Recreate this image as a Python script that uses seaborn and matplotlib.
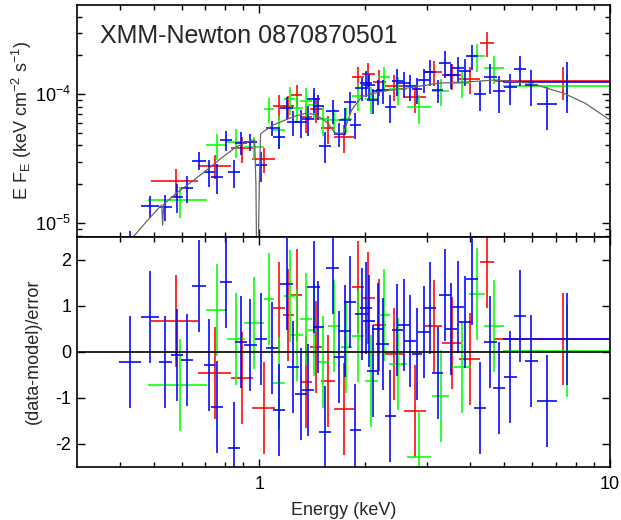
import math
import matplotlib
matplotlib.use("Agg")
import matplotlib.pyplot as plt
import matplotlib.ticker as mticker
import seaborn as sns

# ---------------- spectral data (unfolded E F_E and residuals) ----------------
# red data set
red_energy = [0.580, 0.749, 0.894, 1.031, 1.140, 1.210, 1.278, 1.361, 1.454, 1.573, 1.747,
              1.915, 2.046, 2.199, 2.427, 2.785, 3.149, 3.537, 3.997, 4.468, 7.36]
red_halfwidth = [0.088, 0.080, 0.066, 0.075, 0.045, 0.045, 0.045, 0.05, 0.055, 0.075, 0.11,
                 0.08, 0.085, 0.095, 0.145, 0.205, 0.18, 0.215, 0.275, 0.2, 2.68]
red_flux = [2.11e-5, 2.77e-5, 3.8e-5, 3.13e-5, 8.1e-5, 8.1e-5, 9.8e-5, 6.6e-5, 7.65e-5, 5.45e-5, 4.63e-5,
            1.35e-4, 1.44e-4, 1.25e-4, 1.15e-4, 9.5e-5, 1.48e-4, 1.4e-4, 1.32e-4, 2.49e-4, 1.26e-4]
red_flux_err = [5.2e-6, 5.9e-6, 8.5e-6, 6.8e-6, 1.75e-5, 1.6e-5, 1.9e-5, 1.6e-5, 1.65e-5, 1.37e-5, 1.16e-5,
                2.8e-5, 3.1e-5, 2.8e-5, 2.6e-5, 2.3e-5, 3.2e-5, 3.3e-5, 3.2e-5, 5.6e-5, 3.6e-5]
red_resid = [0.67, -0.47, -0.57, -1.22, 0.96, 0.8, 1.24, -0.65, 0.11, -0.63, -1.25,
             1.41, 1.17, 0.57, -0.06, -1.28, 0.55, 0.2, -0.15, 1.94, 0.28]

# green data set
green_energy = [0.595, 0.757, 0.860, 0.968, 1.066, 1.140, 1.221, 1.284, 1.361, 1.429, 1.522, 1.636,
                1.770, 1.915, 2.086, 2.267, 2.491, 2.859, 3.296, 3.777, 4.183, 4.678, 7.523]
green_halfwidth = [0.113, 0.053, 0.049, 0.063, 0.035, 0.045, 0.045, 0.05, 0.055, 0.05, 0.055, 0.065,
                   0.065, 0.08, 0.09, 0.085, 0.145, 0.23, 0.185, 0.25, 0.23, 0.3, 2.56]
green_flux = [1.50e-5, 4.0e-5, 4.26e-5, 3.87e-5, 7.65e-5, 5.28e-5, 9.15e-5, 7.8e-5, 8.9e-5, 8.26e-5, 6.42e-5, 6.31e-5,
              6.39e-5, 9.76e-5, 9.2e-5, 1.35e-4, 1.09e-4, 7.9e-5, 1.06e-4, 1.23e-4, 1.98e-4, 1.59e-4, 1.15e-4]
green_flux_err = [4.1e-6, 9e-6, 1.07e-5, 8e-6, 1.7e-5, 1.5e-5, 2.2e-5, 1.85e-5, 2.2e-5, 1.9e-5, 1.7e-5, 1.3e-5,
                  1.4e-5, 2.4e-5, 2.2e-5, 2.9e-5, 2.6e-5, 2.0e-5, 2.5e-5, 2.9e-5, 4.9e-5, 3.9e-5, 2.8e-5]
green_resid = [-0.72, 0.9, 0.28, 0.63, 1.14, -0.69, 1.22, 0.37, 0.72, 0.47, -0.22, 0.55,
               0.11, 0.35, -0.63, 0.8, -0.26, -2.28, -0.96, -0.34, 1.26, 0.55, 0.02]

# blue data set
blue_energy = [0.429, 0.489, 0.540, 0.584, 0.623, 0.675, 0.720, 0.757, 0.805, 0.849, 0.889, 0.943,
               1.013, 1.087, 1.140, 1.197, 1.250, 1.315, 1.379, 1.429, 1.473, 1.542, 1.619, 1.691,
               1.755, 1.817, 1.878, 1.959, 2.011, 2.059, 2.106, 2.184, 2.248, 2.363, 2.475, 2.591,
               2.696, 2.817, 2.949, 3.067, 3.227, 3.384, 3.521, 3.693, 3.867, 4.043, 4.267, 4.557,
               4.834, 5.196, 5.549, 5.965, 6.627, 7.553]
blue_halfwidth = [0.032, 0.029, 0.0225, 0.023, 0.024, 0.031, 0.026, 0.031, 0.032, 0.033, 0.035, 0.039,
                  0.042, 0.043, 0.046, 0.048, 0.05, 0.055, 0.055, 0.058, 0.055, 0.06, 0.065, 0.055,
                  0.07, 0.07, 0.07, 0.085, 0.08, 0.08, 0.075, 0.085, 0.09, 0.088, 0.09, 0.1,
                  0.11, 0.1, 0.11, 0.12, 0.12, 0.135, 0.14, 0.15, 0.16, 0.17, 0.17, 0.19,
                  0.2, 0.22, 0.23, 0.26, 0.435, 2.6]
blue_flux = [6.9e-6, 1.355e-5, 1.34e-5, 1.60e-5, 1.87e-5, 3.05e-5, 2.49e-5, 2.27e-5, 4.39e-5, 2.48e-5, 4.2e-5, 4.28e-5,
             2.8e-5, 5.5e-5, 4.63e-5, 7.87e-5, 6.06e-5, 6.04e-5, 6.4e-5, 9.15e-5, 8.1e-5, 3.98e-5, 7.46e-5, 4.94e-5,
             6.31e-5, 8.7e-5, 5.81e-5, 1.11e-4, 1.23e-4, 1.18e-4, 9.0e-5, 1.05e-4, 1.07e-4, 7.9e-5, 1.27e-4, 1.22e-4,
             1.15e-4, 1.09e-4, 1.29e-4, 1.5e-4, 1.07e-4, 1.74e-4, 1.41e-4, 1.59e-4, 1.52e-4, 1.98e-4, 1.0e-4, 1.37e-4,
             1.05e-4, 1.13e-4, 1.57e-4, 1.18e-4, 8.37e-5, 1.25e-4]
blue_flux_err = [1.8e-6, 2.7e-6, 3.0e-6, 4.0e-6, 4.3e-6, 4.9e-6, 6e-6, 6e-6, 7.5e-6, 6e-6, 8.5e-6, 6.5e-6,
                 7.3e-6, 7.5e-6, 9e-6, 1.6e-5, 1.36e-5, 1.5e-5, 1.7e-5, 2.0e-5, 1.75e-5, 1.07e-5, 1.54e-5, 1.03e-5,
                 1.47e-5, 1.7e-5, 1.3e-5, 2.3e-5, 2.75e-5, 2.6e-5, 2.0e-5, 2.3e-5, 2.3e-5, 1.9e-5, 3.0e-5, 2.8e-5,
                 2.6e-5, 2.5e-5, 2.7e-5, 3.4e-5, 2.2e-5, 4.1e-5, 3.2e-5, 3.6e-5, 3.6e-5, 4.4e-5, 2.6e-5, 3.6e-5,
                 3.4e-5, 3.1e-5, 4.1e-5, 3.7e-5, 3.1e-5, 5.4e-5]
blue_resid = [-0.22, 0.76, -0.22, -0.08, -0.17, 1.43, -0.29, -1.2, 1.52, -2.1, 0.22, 0.15,
              0.28, 0.07, -1.26, 1.48, -0.33, -0.91, -0.83, 1.4, 0.53, -1.74, 1.82, -0.12,
              0.45, 1.07, -1.7, 0.83, 0.96, 0.67, -0.41, 0.5, 0.17, -1.39, 0.48, 0.57,
              0.24, -0.06, 0.43, 0.94, -0.47, 1.24, 0.5, 0.98, 0.65, 1.57, -1.22, 0.22,
              -0.78, -0.56, 0.78, -0.2, -1.07, 0.28]

# best-fitting model curve
model_energy = [0.42, 0.437, 0.48, 0.52, 0.527, 0.530, 0.534, 0.58, 0.65, 0.708, 0.78, 0.862,
                0.951, 0.97, 0.978, 0.983, 0.992, 1.000, 1.008, 1.027, 1.096, 1.158, 1.25, 1.35,
                1.43, 1.52, 1.58, 1.644, 1.736, 1.834, 1.96, 2.23, 2.6, 3.27, 3.99, 4.7,
                5.9, 6.5, 7.36, 8.5, 10.0]
model_flux = [6.5e-6, 7.8e-6, 1.05e-5, 1.33e-5, 1.38e-5, 9.6e-6, 1.40e-5, 1.7e-5, 2.15e-5, 2.58e-5, 3.2e-5, 3.92e-5,
              4.41e-5, 4.4e-5, 2.0e-5, 5.0e-6, 5.0e-6, 2.0e-5, 4.9e-5, 5.13e-5, 5.77e-5, 6.14e-5, 6.69e-5, 7.1e-5,
              7.0e-5, 6.4e-5, 5.8e-5, 5.0e-5, 4.97e-5, 7.55e-5, 9.58e-5, 1.05e-4, 1.11e-4, 1.22e-4, 1.25e-4, 1.29e-4,
              1.22e-4, 1.13e-4, 1.02e-4, 8.5e-5, 6.3e-5]

title_text = "XMM-Newton 0870870501"
energy_ticks = [1, 10]
energy_tick_labels = ["1", "10"]
resid_ticks = [-2, -1, 0, 1, 2]

# ---------------- styling ----------------
sns.set_theme(style="ticks")
plt.rcParams["font.family"] = ["Liberation Sans", "DejaVu Sans"]
plt.rcParams["mathtext.fontset"] = "custom"
plt.rcParams["mathtext.rm"] = "Liberation Sans"
plt.rcParams["mathtext.it"] = "Liberation Sans:italic"
plt.rcParams["mathtext.bf"] = "Liberation Sans:bold"
plt.rcParams["axes.unicode_minus"] = False

fig = plt.figure(figsize=(6.21, 5.2), dpi=100)
ax_top = fig.add_axes([0.1235, 0.5448, 0.8588, 0.4452])
ax_res = fig.add_axes([0.1235, 0.1025, 0.8588, 0.4423])

for ax in (ax_top, ax_res):
    ax.set_xscale("log")
    ax.set_xlim(0.3015, 10.0)
ax_top.set_yscale("log")
ax_top.set_ylim(7.83e-6, 4.91e-4)
ax_res.set_ylim(-2.5, 2.5)

series = [
    ("#ff0000", red_energy, red_halfwidth, red_flux, red_flux_err, red_resid),
    ("#00ff00", green_energy, green_halfwidth, green_flux, green_flux_err, green_resid),
    ("#0000ff", blue_energy, blue_halfwidth, blue_flux, blue_flux_err, blue_resid),
]

for color, e, de, f, fe, r in series:
    ax_top.errorbar(e, f, xerr=de, yerr=fe, fmt="none", ecolor=color,
                    elinewidth=1.15, capsize=0, zorder=2)
    ax_res.errorbar(e, r, xerr=de, yerr=1.0, fmt="none", ecolor=color,
                    elinewidth=1.15, capsize=0, zorder=2)

sns.lineplot(x=model_energy, y=model_flux, ax=ax_top, color="#666666", lw=0.9,
             sort=False, estimator=None, legend=False, zorder=3)
ax_res.axhline(0.0, color="black", lw=1.2, zorder=3)

# ---------------- axes, ticks, labels ----------------
def decade_label(v, pos):
    exp = int(round(math.log10(v)))
    return r"$\mathregular{10^{%d}}$" % exp

for ax in (ax_top, ax_res):
    ax.xaxis.set_major_locator(mticker.FixedLocator(energy_ticks))
    ax.xaxis.set_minor_locator(mticker.LogLocator(base=10, subs=range(2, 10), numticks=20))
    ax.xaxis.set_minor_formatter(mticker.NullFormatter())
    ax.tick_params(which="both", direction="in", top=True, right=True, width=1.0,
                   colors="black", labelsize=13, pad=4)
    ax.tick_params(which="major", length=6)
    ax.tick_params(which="minor", length=3.5)
    for s in ax.spines.values():
        s.set_linewidth(1.2)
        s.set_color("black")

ax_top.tick_params(labelbottom=False)
ax_top.yaxis.set_major_locator(mticker.LogLocator(base=10, numticks=10))
ax_top.yaxis.set_minor_locator(mticker.LogLocator(base=10, subs=range(2, 10), numticks=20))
ax_top.yaxis.set_major_formatter(mticker.FuncFormatter(decade_label))
ax_top.yaxis.set_minor_formatter(mticker.NullFormatter())

ax_res.xaxis.set_major_formatter(mticker.FixedFormatter(energy_tick_labels))
ax_res.tick_params(axis="x", which="major", pad=7)
ax_res.yaxis.set_major_locator(mticker.FixedLocator(resid_ticks))
ax_res.yaxis.set_minor_locator(mticker.NullLocator())
ax_res.yaxis.set_major_formatter(mticker.FormatStrFormatter("%d"))

ax_top.set_ylabel(r"E F$_\mathregular{E}$ (keV cm$^\mathregular{-2}$ s$^\mathregular{-1}$)", fontsize=13)
ax_top.yaxis.set_label_coords(-0.080, 0.5)
ax_res.set_ylabel("(data-model)/error", fontsize=13)
ax_res.yaxis.set_label_coords(-0.066, 0.5)
ax_res.set_xlabel("Energy (keV)", fontsize=13, labelpad=6)

fig.text(100 / 621, 1 - 43.3 / 520, title_text, fontsize=18, ha="left", va="baseline")

fig.savefig("out.png", dpi=100)
